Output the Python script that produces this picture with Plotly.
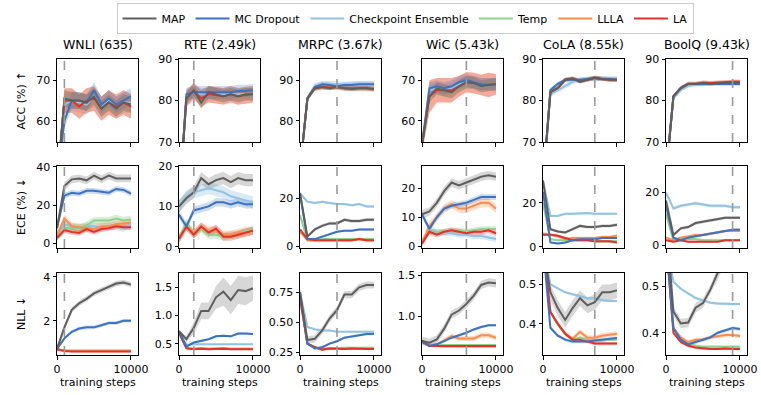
import plotly.graph_objects as go

steps = [0, 1000, 2000, 3000, 4000, 5000, 6000, 7000, 8000, 9000, 10000]
datasets = ["WNLI (635)", "RTE (2.49k)", "MRPC (3.67k)", "WiC (5.43k)", "CoLA (8.55k)", "BoolQ (9.43k)"]
best_step = [1000, 2000, 5000, 6000, 7000, 9000]
methods = ["MAP", "MC Dropout", "Checkpoint Ensemble", "Temp", "LLLA", "LA"]
draw_order = ["Checkpoint Ensemble", "Temp", "LLLA", "LA", "MC Dropout", "MAP"]
colors = {"MAP": "#5e5e5e", "MC Dropout": "#3b72c2", "Checkpoint Ensemble": "#92c3e3",
          "Temp": "#8fd18c", "LLLA": "#fd8d4c", "LA": "#e2322a"}
fills = {"MAP": "rgba(97,97,97,0.25)", "MC Dropout": "rgba(59,114,194,0.25)",
         "Checkpoint Ensemble": "rgba(146,195,227,0.35)", "Temp": "rgba(143,209,140,0.35)",
         "LLLA": "rgba(253,141,76,0.3)", "LA": "rgba(226,50,42,0.3)"}

# ---- accuracy (%) ----
acc_wnli = {"MAP": [44, 65.5, 65, 65, 64.5, 66, 63, 64.5, 63, 64.5, 64],
            "MC Dropout": [44, 60, 65, 65, 64.5, 67.5, 64, 65.5, 64, 65, 66],
            "Checkpoint Ensemble": [44, 64, 65, 64.5, 64, 66, 63.5, 65, 63.5, 64.5, 64.5],
            "Temp": [44, 65.5, 65, 65, 64.5, 66, 63, 64.5, 63, 64.5, 64],
            "LLLA": [44, 65, 65, 63.5, 65, 65.5, 63, 64.5, 63.5, 64.5, 63.5],
            "LA": [44, 65, 65, 63.5, 65, 65.5, 63, 64.5, 63.5, 64.5, 63.5]}
acc_wnli_sd = {"MAP": 2, "MC Dropout": 2, "Checkpoint Ensemble": 2.5, "Temp": 2, "LLLA": 3, "LA": 3}
acc_rte = {"MAP": [55, 80.5, 82.5, 79.5, 82, 81.5, 81, 81.5, 81, 81.5, 81.5],
           "MC Dropout": [55, 81.5, 82, 82, 82, 82, 82, 82, 82.3, 82.3, 82.5],
           "Checkpoint Ensemble": [55, 81, 82, 81.5, 81.5, 81.5, 81.5, 81.5, 81.5, 81.5, 81.5],
           "Temp": [55, 80.5, 82.5, 79.5, 82, 81.5, 81, 81.5, 81, 81.5, 81.5],
           "LLLA": [55, 80.5, 82.3, 80.5, 81.5, 81.3, 81, 81.5, 81, 81.3, 81.5],
           "LA": [55, 80.5, 82.3, 80.5, 81.5, 81.3, 81, 81.5, 81, 81.3, 81.5]}
acc_rte_sd = {"MAP": 1.5, "MC Dropout": 1.5, "Checkpoint Ensemble": 1.5, "Temp": 1.5, "LLLA": 2, "LA": 2}
acc_mrpc = {"MAP": [68, 85.5, 88, 88.3, 88, 88.3, 88, 87.8, 88, 88, 87.8],
            "MC Dropout": [68, 85.5, 88.3, 89, 88.8, 88.5, 88.8, 88.8, 89, 89, 89],
            "Checkpoint Ensemble": [68, 85.5, 88.5, 89, 89, 89, 88.8, 89, 89, 89, 89],
            "Temp": [68, 85.5, 88, 88.3, 88, 88.3, 88, 87.8, 88, 88, 87.8],
            "LLLA": [68, 85.5, 88, 88.3, 88.2, 88.3, 88, 88, 88, 88, 87.8],
            "LA": [68, 85.5, 88, 88.3, 88.2, 88.3, 88, 88, 88, 88, 87.8]}
acc_mrpc_sd = {"MAP": 0.5, "MC Dropout": 0.7, "Checkpoint Ensemble": 0.8, "Temp": 0.5, "LLLA": 0.6, "LA": 0.6}
acc_wic = {"MAP": [54, 66, 68, 67.5, 67, 68.5, 69.5, 69.3, 68.5, 68.8, 69],
           "MC Dropout": [54, 68, 68.5, 68, 68.5, 69.5, 70, 69.5, 69, 69, 69],
           "Checkpoint Ensemble": [54, 67.5, 68, 67.5, 68, 69, 69.5, 69.5, 69, 69, 69],
           "Temp": [54, 66, 68, 67.5, 67, 68.5, 69.5, 69.3, 68.5, 68.8, 69],
           "LLLA": [54, 66, 67.5, 67.5, 67.5, 68.5, 69.5, 69.3, 68.8, 68.8, 69],
           "LA": [54, 66, 67.5, 67.5, 67.5, 68.5, 69.5, 69.3, 68.8, 68.8, 69]}
acc_wic_sd = {"MAP": 1.5, "MC Dropout": 1.5, "Checkpoint Ensemble": 1.5, "Temp": 1.5,
              "LLLA": [2, 4, 3, 3, 3, 2.5, 2.5, 2.5, 2.5, 3, 2.5], "LA": [2, 4, 3, 3, 3, 2.5, 2.5, 2.5, 2.5, 3, 2.5]}
acc_cola = {"MAP": [60, 82, 83, 85, 85.3, 84.5, 85, 85.5, 85.2, 85, 85],
            "MC Dropout": [60, 82.5, 84, 85, 85, 85, 85.2, 85.3, 85.2, 85.2, 85],
            "Checkpoint Ensemble": [60, 81.5, 82.5, 83.5, 84.5, 85, 85.2, 85.3, 85.3, 85.3, 85.3],
            "Temp": [60, 82, 83, 85, 85.3, 84.5, 85, 85.5, 85.2, 85, 85],
            "LLLA": [60, 82, 83, 85, 85.3, 84.7, 85, 85.5, 85.2, 85, 85],
            "LA": [60, 82, 83, 85, 85.3, 84.7, 85, 85.5, 85.2, 85, 85]}
acc_cola_sd = {"MAP": 0.4, "MC Dropout": 0.5, "Checkpoint Ensemble": 0.6, "Temp": 0.4, "LLLA": 0.5, "LA": 0.5}
acc_boolq = {"MAP": [62, 81, 83, 84, 84, 84.2, 84, 84.2, 84.3, 84.3, 84.3],
             "MC Dropout": [62, 81, 83, 84, 84, 84, 84, 84, 84, 84, 84],
             "Checkpoint Ensemble": [62, 80.5, 82.5, 83.5, 83.8, 83.8, 84, 84, 84, 84, 84],
             "Temp": [62, 81, 83, 84, 84, 84.2, 84, 84.2, 84.3, 84.3, 84.3],
             "LLLA": [62, 81, 83, 84, 84, 84.3, 84.2, 84.3, 84.5, 84.5, 84.5],
             "LA": [62, 81, 83, 84, 84, 84.3, 84.2, 84.3, 84.5, 84.5, 84.5]}
acc_boolq_sd = {"MAP": 0.4, "MC Dropout": 0.4, "Checkpoint Ensemble": 0.4, "Temp": 0.4, "LLLA": 0.5, "LA": 0.5}

# ---- ECE (%) ----
ece_wnli = {"MAP": [8, 30, 33.5, 34, 33, 35.5, 33.5, 35.5, 34, 34, 34],
            "MC Dropout": [8, 25, 26.5, 26, 27.5, 27.5, 27, 26.5, 28.5, 28, 26],
            "Checkpoint Ensemble": [5, 10, 9, 8, 9, 9, 8.5, 9, 9, 8, 10],
            "Temp": [3, 8, 8, 8, 9.5, 12, 12, 12, 13, 12, 12.5],
            "LLLA": [4, 13, 9, 8.5, 8, 7.5, 9, 9, 10, 10.5, 11],
            "LA": [3, 7, 6, 5.5, 7.5, 6, 7.5, 8, 9, 8.5, 8.5]}
ece_wnli_sd = {"MAP": 2, "MC Dropout": 1.5, "Checkpoint Ensemble": 2, "Temp": 2, "LLLA": 2, "LA": 1.5}
ece_rte = {"MAP": [10, 12, 13.5, 17, 15.5, 16.5, 17, 16, 17, 16.5, 16.5],
           "MC Dropout": [8, 5, 9, 9.5, 10, 11, 11, 10.5, 11, 10.5, 10.5],
           "Checkpoint Ensemble": [10, 12.5, 13.5, 14, 14.5, 14, 13.5, 12.5, 12, 11.5, 11],
           "Temp": [2, 6, 3, 4.5, 3, 3, 2.5, 3, 3, 4, 4],
           "LLLA": [2, 5, 3.5, 5, 4, 4, 3, 3, 3.5, 3.5, 4],
           "LA": [2, 5, 3, 5, 3.5, 4.5, 2.5, 2.5, 3, 3.5, 4]}
ece_rte_sd = {"MAP": 1.5, "MC Dropout": 1, "Checkpoint Ensemble": 1.5, "Temp": 1, "LLLA": 1, "LA": 1}
ece_mrpc = {"MAP": [22, 4, 7, 8.5, 9.5, 9.5, 11, 10.5, 10.5, 11, 11],
            "MC Dropout": [22, 3, 3, 4, 5, 6, 6.5, 6.5, 7, 7, 7],
            "Checkpoint Ensemble": [22, 18.5, 18, 18.5, 18, 17.5, 17.5, 17, 17.5, 16.5, 16.5],
            "Temp": [13, 2.5, 2.5, 3, 3, 3, 3, 3, 3, 3, 3],
            "LLLA": [6, 2.5, 2.5, 2.5, 2.5, 2.5, 2.5, 2.5, 3, 2.5, 2.5],
            "LA": [7, 3, 2.5, 2.5, 2.5, 2.5, 2.5, 2.5, 3, 2.5, 2.5]}
ece_mrpc_sd = {"MAP": 0.7, "MC Dropout": 0.5, "Checkpoint Ensemble": 0.5, "Temp": 0.5, "LLLA": 0.5, "LA": 0.5}
ece_wic = {"MAP": [11, 12, 15, 19, 22, 21, 22, 23, 24, 24.5, 24],
           "MC Dropout": [11, 6, 10, 13, 14, 14.5, 15, 16, 17, 17, 17],
           "Checkpoint Ensemble": [11, 6, 5, 4.5, 4.5, 4, 4, 3.5, 3.5, 3, 2.5],
           "Temp": [2, 5, 5, 5, 5.5, 5.5, 5, 5.5, 6, 6, 6],
           "LLLA": [1, 7, 10, 13, 14.5, 13, 13, 14, 15, 15, 13],
           "LA": [1, 5, 4, 5, 5.5, 5, 4.5, 5, 5, 5.5, 4.5]}
ece_wic_sd = {"MAP": 1.5, "MC Dropout": 1, "Checkpoint Ensemble": 1, "Temp": 1, "LLLA": 1.5, "LA": 1}
ece_cola = {"MAP": [30, 8, 7, 6.5, 8, 9.5, 9, 9, 9.5, 9.5, 10],
            "MC Dropout": [25, 2, 1.5, 2, 3, 3.5, 3.5, 3.5, 4, 4, 4],
            "Checkpoint Ensemble": [30, 14, 14, 15, 15, 15.2, 15.3, 15, 15, 15, 15],
            "Temp": [20, 3.5, 3, 3, 3, 3, 3, 2.5, 2.5, 2.5, 2.5],
            "LLLA": [6, 5.5, 5, 3.5, 4, 4, 4, 4, 4.5, 4.5, 5],
            "LA": [5.5, 5.5, 5, 4, 3, 3, 3, 2.5, 2.5, 2.5, 2]}
ece_cola_sd = {"MAP": 0.7, "MC Dropout": 0.5, "Checkpoint Ensemble": 0.5, "Temp": 0.5, "LLLA": 0.7, "LA": 0.5}
ece_boolq = {"MAP": [17, 4, 6.5, 7, 8.5, 9, 9.5, 10, 10.5, 10.5, 10.5],
             "MC Dropout": [15, 3, 2, 3, 3.5, 4, 4.5, 5, 5.5, 6, 6],
             "Checkpoint Ensemble": [20, 14, 15, 15.5, 16, 15.5, 15, 15, 15, 14.5, 14.5],
             "Temp": [12, 2, 2.5, 2.5, 2.5, 2, 2, 2, 2, 2, 2],
             "LLLA": [3, 2, 3, 3.5, 4, 4, 4.5, 5, 5.5, 5.5, 5.5],
             "LA": [2, 1.5, 2, 1.5, 1.5, 1.5, 1.5, 1.5, 2, 2, 2]}
ece_boolq_sd = {"MAP": 0.6, "MC Dropout": 0.5, "Checkpoint Ensemble": 0.6, "Temp": 0.4, "LLLA": 0.5, "LA": 0.4}

# ---- NLL ----
nll_wnli = {"MAP": [0.72, 1.7, 2.5, 2.8, 3.0, 3.25, 3.4, 3.55, 3.7, 3.75, 3.65],
            "MC Dropout": [0.72, 1.2, 1.5, 1.65, 1.7, 1.7, 1.8, 1.9, 1.9, 2.0, 2.0],
            "Checkpoint Ensemble": [0.72, 0.65, 0.64, 0.64, 0.64, 0.64, 0.64, 0.64, 0.64, 0.64, 0.64],
            "Temp": [0.7, 0.64, 0.63, 0.63, 0.63, 0.63, 0.63, 0.63, 0.63, 0.63, 0.63],
            "LLLA": [0.7, 0.62, 0.61, 0.61, 0.61, 0.61, 0.61, 0.61, 0.61, 0.61, 0.61],
            "LA": [0.7, 0.62, 0.6, 0.6, 0.6, 0.6, 0.6, 0.6, 0.6, 0.6, 0.6]}
nll_wnli_sd = {"MAP": 0.12, "MC Dropout": 0.08, "Checkpoint Ensemble": 0.02, "Temp": 0.02, "LLLA": 0.02, "LA": 0.02}
nll_rte = {"MAP": [0.72, 0.58, 0.78, 1.08, 1.08, 1.32, 1.42, 1.27, 1.45, 1.43, 1.48],
           "MC Dropout": [0.72, 0.45, 0.52, 0.55, 0.58, 0.63, 0.64, 0.63, 0.68, 0.68, 0.67],
           "Checkpoint Ensemble": [0.7, 0.48, 0.49, 0.49, 0.49, 0.49, 0.49, 0.49, 0.49, 0.49, 0.49],
           "Temp": [0.7, 0.42, 0.41, 0.42, 0.41, 0.42, 0.42, 0.41, 0.41, 0.41, 0.41],
           "LLLA": [0.7, 0.42, 0.41, 0.42, 0.41, 0.42, 0.42, 0.41, 0.41, 0.41, 0.41],
           "LA": [0.69, 0.42, 0.4, 0.41, 0.4, 0.41, 0.41, 0.4, 0.4, 0.4, 0.4]}
nll_rte_sd = {"MAP": [0.02, 0.05, 0.1, 0.15, 0.15, 0.2, 0.25, 0.25, 0.25, 0.25, 0.22],
              "MC Dropout": 0.02, "Checkpoint Ensemble": 0.01, "Temp": 0.01, "LLLA": 0.01, "LA": 0.01}
nll_mrpc = {"MAP": [0.75, 0.35, 0.36, 0.43, 0.53, 0.6, 0.73, 0.73, 0.79, 0.81, 0.81],
            "MC Dropout": [0.75, 0.32, 0.28, 0.29, 0.32, 0.34, 0.37, 0.38, 0.39, 0.4, 0.4],
            "Checkpoint Ensemble": [0.75, 0.46, 0.44, 0.43, 0.43, 0.42, 0.42, 0.42, 0.42, 0.42, 0.42],
            "Temp": [0.72, 0.32, 0.29, 0.28, 0.28, 0.285, 0.285, 0.285, 0.285, 0.285, 0.285],
            "LLLA": [0.7, 0.32, 0.29, 0.27, 0.28, 0.28, 0.28, 0.28, 0.28, 0.28, 0.28],
            "LA": [0.7, 0.32, 0.29, 0.27, 0.28, 0.275, 0.275, 0.28, 0.275, 0.275, 0.275]}
nll_mrpc_sd = {"MAP": 0.03, "MC Dropout": 0.01, "Checkpoint Ensemble": 0.008, "Temp": 0.008, "LLLA": 0.008, "LA": 0.008}
nll_wic = {"MAP": [0.7, 0.68, 0.72, 0.85, 1.02, 1.07, 1.15, 1.25, 1.38, 1.41, 1.4],
           "MC Dropout": [0.7, 0.64, 0.66, 0.7, 0.74, 0.77, 0.8, 0.84, 0.87, 0.89, 0.89],
           "Checkpoint Ensemble": [0.7, 0.66, 0.64, 0.63, 0.63, 0.63, 0.63, 0.63, 0.63, 0.63, 0.63],
           "Temp": [0.69, 0.645, 0.65, 0.65, 0.65, 0.65, 0.65, 0.65, 0.65, 0.65, 0.65],
           "LLLA": [0.69, 0.65, 0.65, 0.7, 0.76, 0.73, 0.73, 0.73, 0.77, 0.77, 0.74],
           "LA": [0.69, 0.64, 0.64, 0.64, 0.64, 0.64, 0.64, 0.64, 0.64, 0.64, 0.64]}
nll_wic_sd = {"MAP": 0.05, "MC Dropout": 0.015, "Checkpoint Ensemble": 0.01, "Temp": 0.01, "LLLA": 0.03, "LA": 0.01}
nll_cola = {"MAP": [0.6, 0.48, 0.44, 0.41, 0.44, 0.465, 0.447, 0.455, 0.48, 0.48, 0.485],
            "MC Dropout": [0.6, 0.39, 0.37, 0.36, 0.355, 0.355, 0.355, 0.358, 0.36, 0.362, 0.364],
            "Checkpoint Ensemble": [0.6, 0.5, 0.49, 0.48, 0.475, 0.47, 0.465, 0.465, 0.46, 0.458, 0.458],
            "Temp": [0.6, 0.43, 0.4, 0.375, 0.36, 0.365, 0.36, 0.357, 0.358, 0.36, 0.36],
            "LLLA": [0.6, 0.43, 0.4, 0.375, 0.362, 0.38, 0.365, 0.365, 0.37, 0.373, 0.375],
            "LA": [0.6, 0.43, 0.4, 0.375, 0.36, 0.36, 0.355, 0.35, 0.35, 0.35, 0.35]}
nll_cola_sd = {"MAP": 0.02, "MC Dropout": 0.004, "Checkpoint Ensemble": 0.003, "Temp": 0.004, "LLLA": 0.006, "LA": 0.004}
nll_boolq = {"MAP": [0.65, 0.446, 0.42, 0.422, 0.454, 0.464, 0.493, 0.525, 0.56, 0.6, 0.64],
             "MC Dropout": [0.6, 0.41, 0.385, 0.375, 0.38, 0.385, 0.39, 0.4, 0.405, 0.41, 0.408],
             "Checkpoint Ensemble": [0.6, 0.51, 0.495, 0.485, 0.475, 0.47, 0.465, 0.463, 0.462, 0.462, 0.462],
             "Temp": [0.6, 0.41, 0.385, 0.375, 0.372, 0.37, 0.37, 0.37, 0.37, 0.37, 0.37],
             "LLLA": [0.6, 0.41, 0.39, 0.38, 0.385, 0.385, 0.39, 0.392, 0.395, 0.395, 0.393],
             "LA": [0.6, 0.4, 0.38, 0.372, 0.368, 0.366, 0.365, 0.365, 0.366, 0.365, 0.365]}
nll_boolq_sd = {"MAP": 0.01, "MC Dropout": 0.004, "Checkpoint Ensemble": 0.003, "Temp": 0.003, "LLLA": 0.004, "LA": 0.003}

panels = [
    [(acc_wnli, acc_wnli_sd), (acc_rte, acc_rte_sd), (acc_mrpc, acc_mrpc_sd),
     (acc_wic, acc_wic_sd), (acc_cola, acc_cola_sd), (acc_boolq, acc_boolq_sd)],
    [(ece_wnli, ece_wnli_sd), (ece_rte, ece_rte_sd), (ece_mrpc, ece_mrpc_sd),
     (ece_wic, ece_wic_sd), (ece_cola, ece_cola_sd), (ece_boolq, ece_boolq_sd)],
    [(nll_wnli, nll_wnli_sd), (nll_rte, nll_rte_sd), (nll_mrpc, nll_mrpc_sd),
     (nll_wic, nll_wic_sd), (nll_cola, nll_cola_sd), (nll_boolq, nll_boolq_sd)],
]
row_labels = ["ACC (%) \u2191", "ECE (%) \u2193", "NLL \u2193"]
y_ranges = [
    [(54.8, 75.2), (70, 90), (74.8, 95.2), (54.8, 75.2), (70, 90), (70, 90)],
    [(-2.4, 40.5), (-0.3, 20), (-0.7, 33.3), (-0.6, 27.7), (-0.5, 36.6), (-0.9, 30)],
    [(0.44, 4.18), (0.3, 1.75), (0.225, 0.91), (0.53, 1.525), (0.321, 0.529), (0.352, 0.529)],
]
y_ticks = [
    [[60, 70], [70, 80, 90], [80, 90], [60, 70], [70, 80, 90], [70, 80, 90]],
    [[0, 20, 40], [0, 10, 20], [0, 20], [0, 10, 20], [0, 20], [0, 20]],
    [[2, 4], [0.5, 1.0, 1.5], [0.25, 0.5, 0.75], [1.0, 1.5], [0.4, 0.5], [0.4, 0.5]],
]
y_ticktext = [
    [["60", "70"], ["70", "80", "90"], ["80", "90"], ["60", "70"], ["70", "80", "90"], ["70", "80", "90"]],
    [["0", "20", "40"], ["0", "10", "20"], ["0", "20"], ["0", "10", "20"], ["0", "20"], ["0", "20"]],
    [["2", "4"], ["0.5", "1.0", "1.5"], ["0.25", "0.50", "0.75"], ["1.0", "1.5"], ["0.4", "0.5"], ["0.4", "0.5"]],
]

W, H = 761, 395
col_px = [(57, 138), (179, 260), (300, 381), (422, 503), (543, 624), (666, 747)]
row_px = [(59, 142), (166, 248), (273, 355)]
FONT = "DejaVu Sans"

fig = go.Figure()
layout = {}
shapes = []
annotations = []
for r in range(3):
    for c in range(6):
        n = r * 6 + c + 1
        xa = "x" if n == 1 else f"x{n}"
        ya = "y" if n == 1 else f"y{n}"
        data, sd = panels[r][c]
        # bands first
        for m in draw_order:
            s = sd[m]
            if not isinstance(s, list):
                s = [s] * len(steps)
            lo = [v - e for v, e in zip(data[m], s)]
            hi = [v + e for v, e in zip(data[m], s)]
            fig.add_trace(go.Scatter(x=steps + steps[::-1], y=hi + lo[::-1], fill="toself",
                                     fillcolor=fills[m], line=dict(width=0), mode="lines",
                                     hoverinfo="skip", showlegend=False, xaxis=xa, yaxis=ya))
        for m in draw_order:
            fig.add_trace(go.Scatter(x=steps, y=data[m], mode="lines", name=m,
                                     line=dict(color=colors[m], width=2),
                                     legendrank=methods.index(m) + 1,
                                     showlegend=(n == 1), xaxis=xa, yaxis=ya))
        l, rr = col_px[c]
        t, b = row_px[r]
        layout["xaxis" if n == 1 else f"xaxis{n}"] = dict(
            domain=[l / W, rr / W], anchor=ya, range=[0, 10950],
            tickvals=[0, 10000], ticktext=["0", "10000"], showticklabels=(r == 2),
            ticks="outside", ticklen=3.5, tickwidth=0.8, tickcolor="black",
            showline=True, mirror=True, linecolor="black", linewidth=1, showgrid=False, zeroline=False,
            tickfont=dict(size=11, color="black", family=FONT))
        layout["yaxis" if n == 1 else f"yaxis{n}"] = dict(
            domain=[1 - b / H, 1 - t / H], anchor=xa, range=list(y_ranges[r][c]),
            tickvals=y_ticks[r][c], ticktext=y_ticktext[r][c],
            ticks="outside", ticklen=3.5, tickwidth=0.8, tickcolor="black",
            showline=True, mirror=True, linecolor="black", linewidth=1, showgrid=False, zeroline=False,
            tickfont=dict(size=11, color="black", family=FONT))
        shapes.append(dict(type="line", xref=xa, yref=f"{ya} domain", x0=best_step[c], x1=best_step[c],
                           y0=0, y1=1, line=dict(color="#9a9a9a", width=1.6, dash="dash"), layer="above"))

for c in range(6):
    l, rr = col_px[c]
    annotations.append(dict(text=datasets[c], x=(l + rr) / 2 / W, y=1 - 44 / H, xref="paper", yref="paper",
                            xanchor="center", yanchor="middle", showarrow=False,
                            font=dict(size=12.5, color="black", family=FONT)))
    annotations.append(dict(text="training steps", x=(l + rr) / 2 / W, y=1 - 382 / H, xref="paper",
                            yref="paper", xanchor="center", yanchor="middle", showarrow=False,
                            font=dict(size=11, color="black", family=FONT)))
for r in range(3):
    t, b = row_px[r]
    annotations.append(dict(text=row_labels[r], x=21 / W, y=1 - (t + b) / 2 / H, xref="paper", yref="paper",
                            xanchor="center", yanchor="middle", showarrow=False, textangle=-90,
                            font=dict(size=11, color="black", family=FONT)))

fig.update_layout(
    width=W, height=H, margin=dict(l=0, r=0, t=0, b=0, autoexpand=False),
    plot_bgcolor="white", paper_bgcolor="white",
    font=dict(family=FONT, size=11, color="black"),
    shapes=shapes, annotations=annotations,
    legend=dict(orientation="h", x=405 / W, xanchor="center", y=1 - 3 / H, yanchor="top",
                bordercolor="#cccccc", borderwidth=1, font=dict(size=11, family=FONT),
                itemwidth=34, tracegroupgap=0),
    **layout,
)
# page body has a default 8px margin; drop it so the figure sits at the window corner
fig.write_html("out.html", config={"displayModeBar": False},
               post_script="document.body.style.margin='0px';")
